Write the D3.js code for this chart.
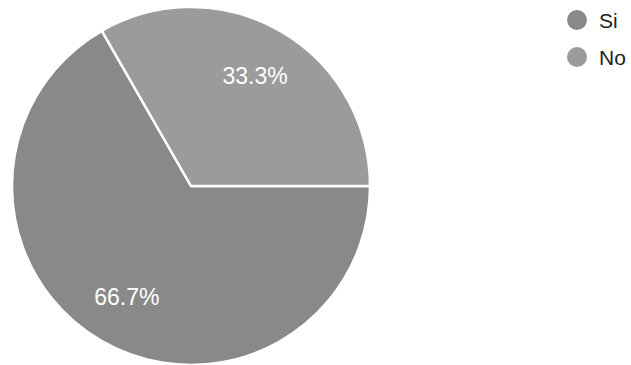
<!DOCTYPE html>
<html>
<head>
<meta charset="utf-8">
<script src="https://d3js.org/d3.v7.min.js"></script>
<style>
    body { margin: 0; background: #fff; }
    svg { display: block; }
</style>
</head>
<body>
<div id="chart"></div>
<script>
// answers to the question, in legend order
let categories = ["Si", "No"];
let values = [66.7, 33.3];
let colors = ["#898989", "#9b9b9b"];

let width = 631;
let height = 365;
let cx = 191, cy = 186;
let radius = 179;

let svg = d3.select("#chart")
    .append("svg")
    .attr("width", width)
    .attr("height", height);

let data = categories.map((c, i) => ({name: c, value: values[i], color: colors[i]}));

let pie = d3.pie()
    .sort(null)
    .value(d => d.value)
    .startAngle(Math.PI / 2)
    .endAngle(Math.PI / 2 + 2 * Math.PI);

let arc = d3.arc()
    .innerRadius(0)
    .outerRadius(radius);

let labelArc = d3.arc()
    .innerRadius(radius * 0.715)
    .outerRadius(radius * 0.715);

let g = svg.append("g")
    .attr("transform", "translate(" + cx + "," + cy + ")");

let slices = pie(data);

g.selectAll("path")
    .data(slices)
    .enter()
    .append("path")
    .attr("d", arc)
    .attr("fill", d => d.data.color)
    .attr("stroke", "#fff")
    .attr("stroke-width", 2.5)
    .attr("stroke-linejoin", "round");

g.selectAll("text")
    .data(slices)
    .enter()
    .append("text")
    .attr("transform", d => "translate(" + labelArc.centroid(d) + ")")
    .attr("text-anchor", "middle")
    .attr("dy", "0.36em")
    .attr("fill", "#fff")
    .style("font-family", "'Liberation Sans', Arial, sans-serif")
    .style("font-size", "23px")
    .text(d => d.data.value.toFixed(1) + "%");

// legend
let legend = svg.append("g")
    .attr("transform", "translate(577,20)");

let item = legend.selectAll("g")
    .data(data)
    .enter()
    .append("g")
    .attr("transform", (d, i) => "translate(0," + (i * 37) + ")");

item.append("circle")
    .attr("r", 10)
    .attr("fill", d => d.color);

item.append("text")
    .attr("x", 22)
    .attr("dy", "0.36em")
    .attr("fill", "#222")
    .style("font-family", "'Liberation Sans', Arial, sans-serif")
    .style("font-size", "21px")
    .text(d => d.name);
</script>
</body>
</html>
